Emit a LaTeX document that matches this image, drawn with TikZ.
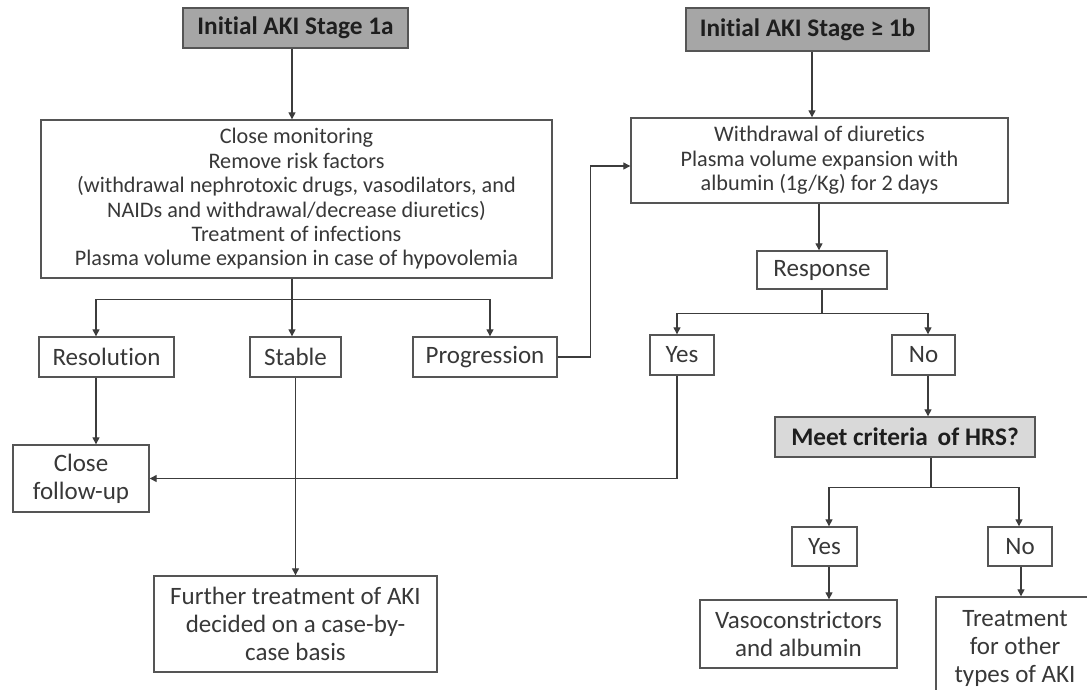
\documentclass[tikz,border=0pt]{standalone}
\usepackage{fontspec}
\setmainfont{Carlito}[Ligatures=NoCommon]
\usetikzlibrary{arrows.meta}
\definecolor{hdr}{HTML}{A6A6A6}
\definecolor{hdrl}{HTML}{D9D9D9}
\definecolor{boxc}{HTML}{555555}
\definecolor{linec}{HTML}{3C3C3C}
\definecolor{txtc}{HTML}{383838}
\definecolor{hdtxt}{HTML}{1E1E1E}
\tikzset{
  box/.style={draw=boxc, line width=1.4pt, fill=white, inner sep=0pt, align=center,
    text=txtc, font=\fontsize{25}{28}\selectfont},
  bigbox/.style={box, font=\fontsize{22.2}{24.4}\selectfont},
  head/.style={box, fill=hdr, text=hdtxt, font=\bfseries\fontsize{25.3}{28}\selectfont},
  headl/.style={head, fill=hdrl},
  ln/.style={draw=linec, line width=1.3pt},
  arr/.style={ln, -{Triangle[length=7pt,width=7pt]}}
}
\begin{document}
\begin{tikzpicture}[x=1pt,y=-1pt]
\useasboundingbox (0,0) rectangle (1087,689);
\fill[white] (0,0) rectangle (1087,689);
\clip (0,0) rectangle (1087,689);

% left column
\node[head, minimum width=225pt, minimum height=40pt] (s1a) at (295.5,28) {Initial AKI Stage 1a};
\node[bigbox, minimum width=511pt, minimum height=158pt] (big) at (296.5,199)
  {Close monitoring\\Remove risk factors\\(withdrawal nephrotoxic drugs, vasodilators, and\\NAIDs and withdrawal/decrease diuretics)\\Treatment of infections\\Plasma volume expansion in case of hypovolemia};
\node[box, minimum width=135pt, minimum height=40pt] (resol) at (106.5,357) {Resolution};
\node[box, minimum width=91pt, minimum height=40pt] (stable) at (295.5,357) {Stable};
\node[box, minimum width=144pt, minimum height=40pt] (prog) at (485,357) {Progression};
\node[box, minimum width=136pt, minimum height=67pt] (close) at (81,478.5) {Close\\follow-up};
\node[box, minimum width=283pt, minimum height=96pt] (further) at (295.5,624) {Further treatment of AKI\\decided on a case-by-\\case basis};

% right column
\node[head, minimum width=243pt, minimum height=43pt] (s1b) at (807.5,29.5) {Initial AKI Stage ≥ 1b};
\node[bigbox, minimum width=377pt, minimum height=85pt] (wd) at (819.5,160.5)
  {Withdrawal of diuretics\\Plasma volume expansion with\\albumin (1g/Kg) for 2 days};
\node[box, minimum width=130pt, minimum height=38pt] (resp) at (822,270) {Response};
\node[box, minimum width=64pt, minimum height=40pt] (yes1) at (682,355) {Yes};
\node[box, minimum width=63pt, minimum height=40pt] (no1) at (923.5,355) {No};
\node[headl, minimum width=260pt, minimum height=40pt] (meet) at (905,437) {Meet criteria\, of HRS?};
\node[box, minimum width=65pt, minimum height=39pt] (yes2) at (824.5,546.5) {Yes};
\node[box, minimum width=64pt, minimum height=39pt] (no2) at (1020,546.5) {No};
\node[box, minimum width=197pt, minimum height=68pt] (vaso) at (798.5,634) {Vasoconstrictors\\and albumin};
\node[box, minimum width=158pt, minimum height=103pt] (treat) at (1015,648.5) {Treatment\\for other\\types of AKI};

% left connectors
\coordinate (c1) at ([xshift=-3.5pt]s1a.south);
\draw[arr] (c1) -- (c1 |- big.north);
\coordinate (c2) at ([xshift=-4.5pt]big.south);
\coordinate (j1) at ([yshift=-21pt]c2);
\draw[ln] (c2) -- (j1);
\draw[arr] (j1) -| ([xshift=-10.5pt]resol.north);
\draw[arr] (j1) -- (j1 |- stable.north);
\draw[arr] (j1) -| ([xshift=5pt]prog.north);
\coordinate (c3) at ([xshift=-10.5pt]resol.south);
\draw[arr] (c3) -- (c3 |- close.north);
\draw[arr] (stable.south) -- (stable.south |- further.north);
\draw[arr] (prog.east) -- ++(33,0) |- ([yshift=-5.5pt]wd.west);

% right connectors
\coordinate (c4) at ([xshift=4.5pt]s1b.south);
\draw[arr] (c4) -- (c4 |- wd.north);
\coordinate (c5) at ([xshift=-0.5pt]wd.south);
\draw[arr] (c5) -- (c5 |- resp.north);
\coordinate (j2) at ([yshift=-24pt]resp.south);
\draw[ln] (resp.south) -- (j2);
\draw[arr] (j2) -| ([xshift=-5pt]yes1.north);
\draw[arr] (j2) -| ([xshift=4.5pt]no1.north);
\coordinate (c6) at ([xshift=-5pt]yes1.south);
\draw[arr] (c6) |- (close.east);
\coordinate (c7) at ([xshift=4.5pt]no1.south);
\draw[arr] (c7) -- (c7 |- meet.north);
\coordinate (j3) at ([yshift=-30pt,xshift=26pt]meet.south);
\draw[ln] (j3 |- meet.south) -- (j3);
\draw[arr] (j3) -| ([xshift=4.5pt]yes2.north);
\draw[arr] (j3) -| ([xshift=-1pt]no2.north);
\coordinate (c8) at ([xshift=4.5pt]yes2.south);
\draw[arr] (c8) -- (c8 |- vaso.north);
\coordinate (c9) at ([xshift=1pt]no2.south);
\draw[arr] (c9) -- (c9 |- treat.north);
\end{tikzpicture}
\end{document}
